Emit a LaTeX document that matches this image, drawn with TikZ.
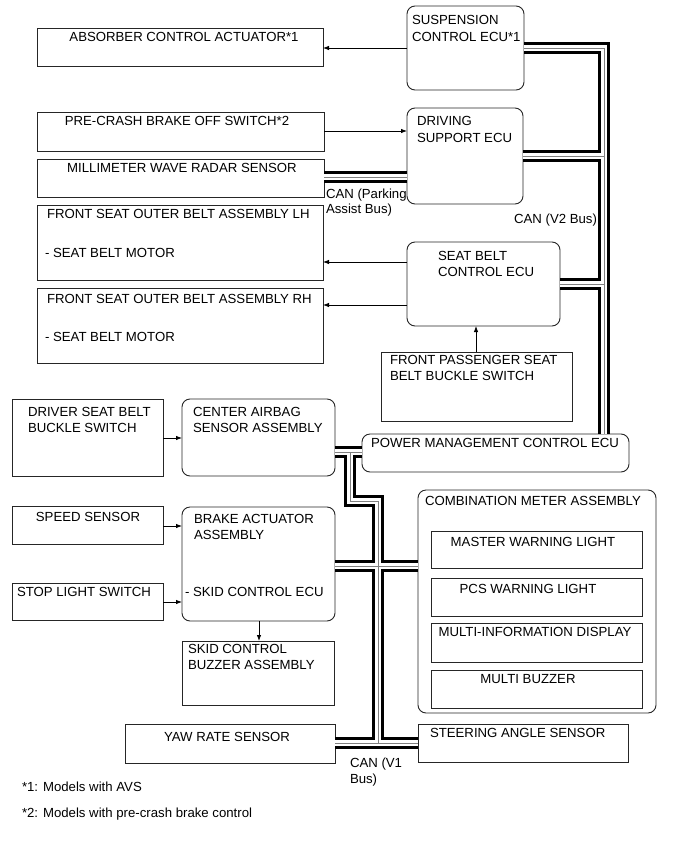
\documentclass[tikz,border=0pt]{standalone}
\usepackage{fontspec}
\setmainfont{Liberation Sans}
\usetikzlibrary{arrows.meta}
\newcommand\mybox[6]{%
  \pgfmathsetmacro\bw{#4-#2}\pgfmathsetmacro\bh{#5-#3}%
  \node[#6, minimum width=\bw pt, minimum height=\bh pt, anchor=north west] (#1) at (#2,#3) {};}
\begin{document}
\begin{tikzpicture}[x=1pt,y=-1pt,
  bx/.style={draw=black!85, line width=0.9pt, inner sep=0pt, outer sep=0pt},
  rbx/.style={bx, rounded corners=8pt},
  txt/.style={inner sep=0pt, outer sep=0pt, font=\fontsize{13.2}{15}\selectfont},
  fn/.style={txt, font=\fontsize{13.2}{15}\selectfont},
  arr/.style={line width=0.8pt, -{Latex[length=6pt,width=4.5pt]}},
  busA/.style={line width=12pt, black, line join=miter},
  busB/.style={line width=6.6pt, white, line join=miter},
  busC/.style={line width=1pt, black!50}]
\useasboundingbox[fill=white] (0,0) rectangle (690,854);

% boxes
\mybox{abs}{37}{28}{323}{66}{bx}
\mybox{susp}{407}{6}{524}{90}{rbx}
\mybox{pcs}{37}{112}{324}{151}{bx}
\mybox{ds}{407}{108}{523}{204}{rbx}
\mybox{mwr}{37}{159}{324}{197}{bx}
\mybox{lh}{37}{205}{323}{280}{bx}
\mybox{rh}{37}{288}{323}{363}{bx}
\mybox{sb}{407}{242}{560}{326}{rbx}
\mybox{fp}{381}{352}{572}{421}{bx}
\mybox{pm}{362}{434}{629}{472}{rbx}
\mybox{dsb}{12}{399}{163}{476}{bx}
\mybox{cas}{182}{399}{335}{476}{rbx}
\mybox{spd}{12}{506}{163}{544}{bx}
\mybox{stp}{12}{583}{163}{620}{bx}
\mybox{bra}{182}{507}{335}{621}{rbx}
\mybox{bz}{182}{641}{334}{705}{bx}
\mybox{cm}{418}{490}{656}{713}{rbx}
\mybox{mw}{431}{531}{642}{568}{bx}
\mybox{pw}{431}{578}{642}{616}{bx}
\mybox{mid}{431}{623}{642}{662}{bx}
\mybox{mb}{431}{670}{642}{708}{bx}
\mybox{sas}{418}{724}{628}{762}{bx}
\mybox{yaw}{125}{724}{335}{763}{bx}

% buses
\foreach \st in {busA,busB,busC}{
  \draw[\st] (susp.east |- 0,48) -- (604,48) -- (pm.north -| 604,0)
             (ds.east |- 0,156) -- (604,156)
             (sb.east |- 0,284) -- (604,284);
  \draw[\st] (mwr.east |- 0,177) -- (ds.west |- 0,177);
  \draw[\st] (cas.east |- 0,452) -- (pm.west |- 0,452)
             (350,452) -- (350,501) -- (378,501) -- (378,743)
             (yaw.east |- 0,743) -- (sas.west |- 0,743)
             (bra.east |- 0,566) -- (cm.west |- 0,566);
}

% arrows
\draw[arr] (susp.west |- 0,48) -- (abs.east |- 0,48);
\draw[arr] (pcs.east |- 0,131) -- (ds.west |- 0,131);
\draw[arr] (sb.west |- 0,262) -- (lh.east |- 0,262);
\draw[arr] (sb.west |- 0,305) -- (rh.east |- 0,305);
\draw[arr] (fp.north -| 476,0) -- (sb.south -| 476,0);
\draw[arr] (dsb.east |- 0,438) -- (cas.west |- 0,438);
\draw[arr] (spd.east |- 0,526) -- (bra.west |- 0,526);
\draw[arr] (stp.east |- 0,602) -- (bra.west |- 0,602);
\draw[arr] (bra.south -| 259,0) -- (bz.north -| 259,0);

% texts
\node[txt, anchor=base] (tabs) at (184,41) {ABSORBER CONTROL ACTUATOR*1};
\node[txt, anchor=base west] (tsusp1) at (412,24) {SUSPENSION};
\node[txt, anchor=base west] (tsusp2) at (412,41) {CONTROL ECU*1};
\node[txt, anchor=base] (tpcs) at (177,125) {PRE-CRASH BRAKE OFF SWITCH*2};
\node[txt, anchor=base west] (tds1) at (417,125) {DRIVING};
\node[txt, anchor=base west] (tds2) at (417,142) {SUPPORT ECU};
\node[txt, anchor=base] (tmwr) at (182,172) {MILLIMETER WAVE RADAR SENSOR};
\node[txt, anchor=base west] (tpa1) at (326,198) {CAN (Parking};
\node[txt, anchor=base west] (tpa2) at (326,213) {Assist Bus)};
\node[txt, anchor=base west] (tlh1) at (47,218) {FRONT SEAT OUTER BELT ASSEMBLY LH};
\node[txt, anchor=base west] (tlh2) at (45,257) {- SEAT BELT MOTOR};
\node[txt, anchor=base west] (trh1) at (47,303) {FRONT SEAT OUTER BELT ASSEMBLY RH};
\node[txt, anchor=base west] (trh2) at (45,341) {- SEAT BELT MOTOR};
\node[txt, anchor=base west] (tsb1) at (438,260) {SEAT BELT};
\node[txt, anchor=base west] (tsb2) at (438,276) {CONTROL ECU};
\node[txt, anchor=base east] (tv2) at (597,223) {CAN (V2 Bus)};
\node[txt, anchor=base west] (tfp1) at (390,364) {FRONT PASSENGER SEAT};
\node[txt, anchor=base west] (tfp2) at (390,380) {BELT BUCKLE SWITCH};
\node[txt, anchor=base west] (tpm) at (371,447) {POWER MANAGEMENT CONTROL ECU};
\node[txt, anchor=base west] (tdsb1) at (28,416) {DRIVER SEAT BELT};
\node[txt, anchor=base west] (tdsb2) at (28,432) {BUCKLE SWITCH};
\node[txt, anchor=base west] (tcas1) at (193,416) {CENTER AIRBAG};
\node[txt, anchor=base west] (tcas2) at (193,432) {SENSOR ASSEMBLY};
\node[txt, anchor=base] (tspd) at (88,521) {SPEED SENSOR};
\node[txt, anchor=base west] (tstp) at (17,596) {STOP LIGHT SWITCH};
\node[txt, anchor=base west] (tbra1) at (194,523) {BRAKE ACTUATOR};
\node[txt, anchor=base west] (tbra2) at (194,539) {ASSEMBLY};
\node[txt, anchor=base west] (tbra3) at (185,596) {- SKID CONTROL ECU};
\node[txt, anchor=base west] (tbz1) at (188,653) {SKID CONTROL};
\node[txt, anchor=base west] (tbz2) at (188,669) {BUZZER ASSEMBLY};
\node[txt, anchor=base west] (tcm) at (425,505) {COMBINATION METER ASSEMBLY};
\node[txt, anchor=base] (tmw) at (533,546) {MASTER WARNING LIGHT};
\node[txt, anchor=base] (tpw) at (528,593) {PCS WARNING LIGHT};
\node[txt, anchor=base] (tmid) at (535,636) {MULTI-INFORMATION DISPLAY};
\node[txt, anchor=base] (tmb) at (528,683) {MULTI BUZZER};
\node[txt, anchor=base west] (tsas) at (430,737) {STEERING ANGLE SENSOR};
\node[txt, anchor=base] (tyaw) at (227,741) {YAW RATE SENSOR};
\node[txt, anchor=base west] (tv1a) at (350,767) {CAN (V1};
\node[txt, anchor=base west] (tv1b) at (350,783) {Bus)};
\node[fn, anchor=base west] (tfn1) at (22,791) {*1: Models with AVS};
\node[fn, anchor=base west] (tfn2) at (22,817) {*2: Models with pre-crash brake control};
\end{tikzpicture}
\end{document}
